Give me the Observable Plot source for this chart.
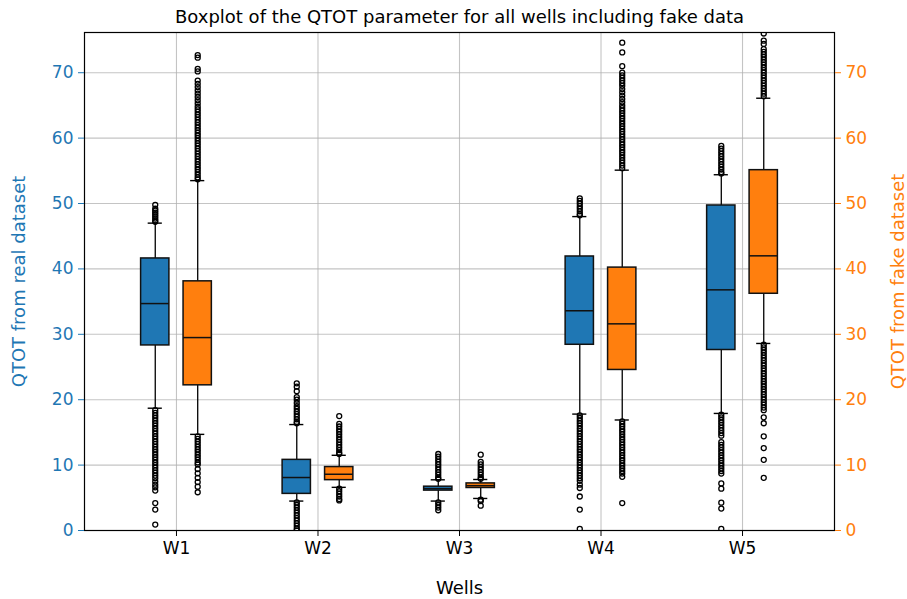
<!DOCTYPE html>
<html>
<head>
<meta charset="utf-8">
<script src="https://cdn.jsdelivr.net/npm/d3@7"></script>
<script src="https://cdn.jsdelivr.net/npm/@observablehq/plot@0.6"></script>
<style>
  html, body { margin: 0; padding: 0; background: #fff; }
</style>
</head>
<body>
<div id="chart"></div>
<script>
const wells = ["W1", "W2", "W3", "W4", "W5"];
const yTicks = [0, 10, 20, 30, 40, 50, 60, 70];

const realQ1 = [28.3, 5.6, 6.1, 28.4, 27.6];
const realMedian = [34.7, 8.1, 6.4, 33.6, 36.8];
const realQ3 = [41.6, 10.8, 6.7, 41.9, 49.7];
const realWhiskerLow = [18.7, 4.5, 4.5, 17.8, 17.9];
const realWhiskerHigh = [47.0, 16.2, 7.75, 48.0, 54.4];

const fakeQ1 = [22.2, 7.7, 6.5, 24.55, 36.2];
const fakeMedian = [29.5, 8.6, 6.85, 31.6, 42.0];
const fakeQ3 = [38.1, 9.7, 7.2, 40.2, 55.1];
const fakeWhiskerLow = [14.7, 6.6, 4.9, 16.9, 28.6];
const fakeWhiskerHigh = [53.5, 11.5, 7.8, 55.1, 66.1];

const realOutW1 = [49.8, 49.2, 48.9, 48.6, 48.3, 48.0, 47.7, 47.4, 47.2, 18.4, 18.0, 17.6, 17.2, 16.8, 16.4, 16.0, 15.6, 15.2, 14.8, 14.4, 14.0, 13.6, 13.2, 12.8, 12.4, 12.0, 11.6, 11.2, 10.8, 10.4, 10.0, 9.6, 9.2, 8.8, 8.4, 8.0, 7.5, 7.0, 6.6, 6.1, 4.2, 3.2, 0.9];
const fakeOutW1 = [72.7, 72.3, 70.6, 70.2, 68.8, 68.3, 67.8, 67.3, 66.8, 66.3, 65.8, 65.3, 64.8, 64.4, 64.0, 63.6, 63.2, 62.8, 62.4, 62.0, 61.6, 61.2, 60.8, 60.4, 60.0, 59.6, 59.2, 58.8, 58.4, 58.0, 57.6, 57.2, 56.8, 56.4, 56.0, 55.6, 55.2, 54.8, 54.4, 54.0, 53.7, 14.4, 14.0, 13.6, 13.2, 12.8, 12.4, 12.0, 11.6, 11.2, 10.8, 10.4, 10.1, 9.4, 8.75, 8.05, 7.4, 6.7, 5.85];
const realOutW2 = [22.5, 22.0, 21.3, 20.4, 20.0, 19.5, 19.0, 18.6, 18.2, 17.8, 17.4, 17.0, 16.6, 16.4, 4.3, 3.9, 3.5, 3.1, 2.7, 2.3, 1.9, 1.5, 1.1, 0.7, 0.3, 0.0];
const fakeOutW2 = [17.5, 16.3, 15.9, 15.5, 15.1, 14.7, 14.3, 13.9, 13.5, 13.1, 12.7, 12.3, 11.9, 11.7, 6.4, 6.0, 5.6, 5.2, 4.8, 4.6];
const realOutW3 = [11.7, 11.3, 10.9, 10.5, 10.1, 9.7, 9.3, 8.9, 8.5, 8.1, 7.9, 4.3, 3.9, 3.5, 3.1];
const fakeOutW3 = [11.6, 10.5, 10.1, 9.7, 9.3, 8.9, 8.5, 8.1, 7.9, 4.7, 4.5, 3.8];
const realOutW4 = [50.8, 50.4, 50.0, 49.6, 49.2, 48.8, 48.4, 48.2, 17.6, 17.2, 16.8, 16.4, 16.0, 15.6, 15.2, 14.8, 14.4, 14.0, 13.6, 13.2, 12.8, 12.4, 12.0, 11.6, 11.2, 10.8, 10.4, 10.0, 9.6, 9.2, 8.8, 8.4, 8.0, 7.6, 7.0, 6.5, 5.2, 3.2, 0.25];
const fakeOutW4 = [74.6, 73.1, 71.0, 70.0, 69.6, 69.2, 68.8, 68.4, 68.0, 67.5, 67.0, 66.5, 66.0, 65.5, 65.0, 64.6, 64.2, 63.8, 63.4, 63.0, 62.6, 62.2, 61.8, 61.4, 61.0, 60.6, 60.2, 59.8, 59.4, 59.0, 58.6, 58.2, 57.8, 57.4, 57.0, 56.6, 56.2, 55.8, 55.4, 16.7, 16.3, 15.9, 15.5, 15.1, 14.7, 14.3, 13.9, 13.5, 13.1, 12.7, 12.3, 11.9, 11.5, 11.1, 10.7, 10.3, 9.9, 9.5, 9.1, 8.7, 8.2, 4.2];
const realOutW5 = [58.8, 58.4, 58.0, 57.6, 57.2, 56.8, 56.4, 56.0, 55.6, 55.2, 54.8, 54.6, 17.7, 17.3, 16.9, 16.5, 16.1, 15.7, 15.3, 14.9, 14.5, 13.5, 13.1, 12.7, 12.3, 11.9, 11.5, 11.1, 10.7, 10.3, 9.9, 9.5, 9.1, 8.7, 7.2, 6.4, 4.25, 3.35, 0.25];
const fakeOutW5 = [76.0, 74.9, 74.4, 73.6, 73.2, 72.8, 72.4, 72.0, 71.6, 71.2, 70.8, 70.4, 70.0, 69.6, 69.2, 68.8, 68.4, 68.0, 67.6, 67.2, 66.8, 66.4, 28.4, 28.0, 27.6, 27.2, 26.8, 26.4, 26.0, 25.6, 25.2, 24.8, 24.4, 24.0, 23.6, 23.2, 22.8, 22.4, 22.0, 21.6, 21.2, 20.8, 20.4, 20.0, 19.6, 19.2, 18.8, 18.4, 17.3, 16.4, 14.4, 12.6, 10.8, 8.05];

const realOutliers = [realOutW1, realOutW2, realOutW3, realOutW4, realOutW5];
const fakeOutliers = [fakeOutW1, fakeOutW2, fakeOutW3, fakeOutW4, fakeOutW5];

const OFFSET = 0.15, HALF = 0.1, CAP = 0.05;
const boxes = [];
const outliers = [];
wells.forEach((w, i) => {
  boxes.push({series: "real", pos: i + 1 - OFFSET, q1: realQ1[i], med: realMedian[i], q3: realQ3[i], lo: realWhiskerLow[i], hi: realWhiskerHigh[i]});
  boxes.push({series: "fake", pos: i + 1 + OFFSET, q1: fakeQ1[i], med: fakeMedian[i], q3: fakeQ3[i], lo: fakeWhiskerLow[i], hi: fakeWhiskerHigh[i]});
  realOutliers[i].forEach(v => outliers.push({pos: i + 1 - OFFSET, v}));
  fakeOutliers[i].forEach(v => outliers.push({pos: i + 1 + OFFSET, v}));
});

const BLUE = "#1f77b4", ORANGE = "#ff7f0e";

const chart = Plot.plot({
  width: 907,
  height: 599,
  marginLeft: 84,
  marginRight: 73,
  marginTop: 32,
  marginBottom: 69,
  style: {fontFamily: "DejaVu Sans", fontSize: "17px", background: "white"},
  x: {domain: [0.35, 5.65]},
  y: {domain: [0, 76.15]},
  color: {domain: ["real", "fake"], range: [BLUE, ORANGE]},
  marks: [
    Plot.gridY(yTicks, {stroke: "#b0b0b0", strokeOpacity: 0.75, strokeWidth: 1.1}),
    Plot.gridX([1, 2, 3, 4, 5], {stroke: "#b0b0b0", strokeOpacity: 0.75, strokeWidth: 1.1}),
    Plot.ruleX(boxes, {x: "pos", y1: "q3", y2: "hi", stroke: "black", strokeWidth: 1.3}),
    Plot.ruleX(boxes, {x: "pos", y1: "lo", y2: "q1", stroke: "black", strokeWidth: 1.3}),
    Plot.ruleY(boxes, {y: "hi", x1: d => d.pos - CAP, x2: d => d.pos + CAP, stroke: "black", strokeWidth: 1.4}),
    Plot.ruleY(boxes, {y: "lo", x1: d => d.pos - CAP, x2: d => d.pos + CAP, stroke: "black", strokeWidth: 1.4}),
    Plot.rect(boxes, {x1: d => d.pos - HALF, x2: d => d.pos + HALF, y1: "q1", y2: "q3", fill: "series", stroke: "#111", strokeWidth: 1.5}),
    Plot.ruleY(boxes, {y: "med", x1: d => d.pos - HALF, x2: d => d.pos + HALF, stroke: "#111", strokeWidth: 1.5}),
    Plot.dot(outliers, {x: "pos", y: "v", r: 2.5, stroke: "black", strokeWidth: 1.3, fill: "none", clip: true}),
    Plot.frame({stroke: "black", strokeWidth: 1.2}),
    Plot.axisY(yTicks, {anchor: "left", color: BLUE, tickSize: 6, tickPadding: 5, label: null}),
    Plot.axisY(yTicks, {anchor: "right", color: ORANGE, tickSize: 6, tickPadding: 5, label: null}),
    Plot.axisX([1, 2, 3, 4, 5], {anchor: "bottom", tickSize: 6, tickPadding: 5, tickFormat: d => wells[d - 1], label: null, color: "black"}),
    Plot.text(["QTOT from real dataset"], {frameAnchor: "left", dx: -65, rotate: -90, textAnchor: "middle", lineAnchor: "middle", fontSize: 18, fill: BLUE}),
    Plot.text(["QTOT from fake dataset"], {frameAnchor: "right", dx: 64, rotate: -90, textAnchor: "middle", lineAnchor: "middle", fontSize: 18, fill: ORANGE}),
    Plot.text(["Wells"], {frameAnchor: "bottom", dy: 58, lineAnchor: "middle", fontSize: 18, fill: "black"}),
    Plot.text(["Boxplot of the QTOT parameter for all wells including fake data"], {frameAnchor: "top", dy: -15, lineAnchor: "middle", fontSize: 18, fill: "black"})
  ]
});
document.getElementById("chart").appendChild(chart);
</script>
</body>
</html>
